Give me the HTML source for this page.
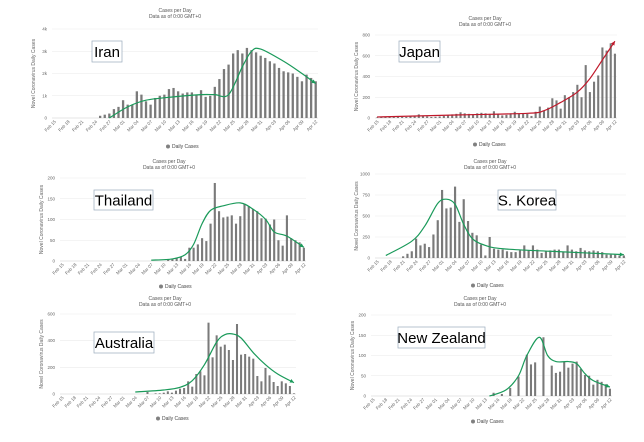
<!DOCTYPE html>
<html><head><meta charset="utf-8"><style>
html,body{margin:0;padding:0;background:#fff;}
svg{display:block;font-family:"Liberation Sans",sans-serif;}
</style></head><body>
<svg id="s" width="644" height="442" viewBox="0 0 644 442" xmlns="http://www.w3.org/2000/svg"></svg>
<script>
const S=document.getElementById('s');
let h='';
function pad(a){while(a.length<58)a.unshift(0);return a.slice(-58);}
const P=[
{name:'Iran',x0:52,x1:318,yt:29,yb:118,max:4000,ticks:['0','1k','2k','3k','4k'],tx:175,ty:12,lx:175,ly:148,box:[92,41,30,21],col:'#1a9a5a',
 d:[100,150,200,400,500,800,600,600,1200,1050,750,600,900,1000,1050,1300,1350,1200,1100,1150,1150,1050,1250,950,1000,1400,1750,2200,2400,2900,3050,2900,3150,3050,2950,2800,2700,2550,2450,2250,2100,2050,2000,1850,1650,1950,1800,1650],
 c:[[12,0],[16,500],[20,800],[26,950],[32,1050],[35,1050],[38,1050],[41,2300],[43,3000],[45,3100],[50,2550],[54,2000],[57,1550]]},
{name:'Japan',x0:375,x1:617,yt:35,yb:118,max:800,ticks:['0','200','400','600','800'],tx:485,ty:20,lx:482,ly:146,box:[399,41,41,21],col:'#c0192b',
 d:[5,8,10,12,10,15,12,10,15,20,35,20,15,10,12,15,20,25,35,40,55,45,40,35,45,50,45,40,65,35,25,30,45,60,40,45,40,20,60,110,70,100,190,170,90,220,200,250,320,200,510,250,350,410,680,650,720,620],
 c:[[0,10],[20,30],[36,45],[40,70],[44,150],[48,250],[51,380],[54,560],[57,740]]},
{name:'Thailand',x0:60,x1:306,yt:178,yb:261,max:200,ticks:['0','50','100','150','200'],tx:169,ty:163,lx:168,ly:288,box:[94,190,59,20],col:'#1a9a5a',
 d:[3,5,8,10,5,32,32,40,55,48,90,188,120,105,107,110,90,108,138,132,125,120,103,102,88,100,50,37,110,55,50,45,32],
 c:[[21,2],[26,5],[29,15],[31,40],[33,90],[35,122],[38,133],[42,140],[45,125],[48,100],[50,70],[53,60],[57,33]]},
{name:'S. Korea',x0:375,x1:626,yt:174,yb:258,max:1000,ticks:['0','250','500','750','1000'],tx:490,ty:163,lx:480,ly:287,box:[498,190,58,20],col:'#1a9a5a',
 d:[20,50,80,230,150,170,130,280,450,810,590,600,850,430,700,440,300,270,160,30,250,110,100,100,80,70,70,90,150,90,150,100,60,80,90,100,100,70,150,100,80,120,90,80,90,80,70,40,40,40,30,30],
 c:[[2,30],[8,200],[11,380],[14,650],[16,700],[18,640],[20,400],[22,230],[25,150],[29,110],[40,80],[57,40]]},
{name:'Australia',x0:60,x1:296,yt:314,yb:394,max:600,ticks:['0','200','400','600'],tx:165,ty:300,lx:165,ly:420,box:[94,332,60,21],col:'#1a9a5a',
 d:[15,0,5,5,10,20,10,25,40,45,95,55,150,170,140,535,275,440,355,370,330,255,525,295,300,280,265,135,95,195,140,90,60,95,80,60,5],
 c:[[18,15],[25,30],[29,50],[32,100],[35,220],[38,390],[40,445],[42,450],[44,420],[47,310],[50,220],[53,150],[57,85]]},
{name:'New Zealand',x0:371,x1:612,yt:315,yb:396,max:200,ticks:['0','50','100','150','200'],tx:480,ty:300,lx:480,ly:423,box:[398,327,87,21],col:'#1a9a5a',
 d:[8,0,5,0,20,0,48,0,102,78,83,0,145,0,75,57,60,85,70,80,85,67,52,50,28,40,35,29,18],
 c:[[28,0],[32,15],[35,50],[37,100],[40,145],[42,100],[44,85],[47,85],[49,80],[51,55],[53,38],[57,22]]}
];
const months=['Feb 15','Feb 18','Feb 21','Feb 24','Feb 27','Mar 01','Mar 04','Mar 07','Mar 10','Mar 13','Mar 16','Mar 19','Mar 22','Mar 25','Mar 28','Mar 31','Apr 03','Apr 06','Apr 09','Apr 12'];
function spline(pts){let s='M'+pts[0][0]+','+pts[0][1];
 for(let i=0;i<pts.length-1;i++){const p0=pts[i-1]||pts[i],p1=pts[i],p2=pts[i+1],p3=pts[i+2]||p2;
 s+=' C'+(p1[0]+(p2[0]-p0[0])/6)+','+(p1[1]+(p2[1]-p0[1])/6)+' '+(p2[0]-(p3[0]-p1[0])/6)+','+(p2[1]-(p3[1]-p1[1])/6)+' '+p2[0]+','+p2[1];}
 return s;}
for(const p of P){
 const n=58,step=(p.x1-p.x0)/n;const X=i=>p.x0+step*(i+0.5);const Y=v=>p.yb-(p.yb-p.yt)*v/p.max;
 h+=`<text x="${p.tx}" y="${p.ty}" font-size="5" fill="#555" text-anchor="middle">Cases per Day</text>`;
 h+=`<text x="${p.tx}" y="${p.ty+6}" font-size="5" fill="#555" text-anchor="middle">Data as of 0:00 GMT+0</text>`;
 const nt=p.ticks.length;
 for(let k=0;k<nt;k++){const y=p.yb-(p.yb-p.yt)*k/(nt-1);
  h+=`<line x1="${p.x0}" x2="${p.x1}" y1="${y}" y2="${y}" stroke="${k==0?'#ccc':'#eaeaea'}" stroke-width="0.6"/>`;
  h+=`<text x="${p.x0-5}" y="${y+1.5}" font-size="4.5" fill="#666" text-anchor="end">${p.ticks[k]}</text>`;}
 const my=(p.yt+p.yb)/2;
 h+=`<text transform="translate(${p.x0-17},${my}) rotate(-90)" font-size="5" fill="#666" text-anchor="middle">Novel Coronavirus Daily Cases</text>`;
 const d=pad(p.d.slice());const bw=Math.max(1.8,step*0.5);
 d.forEach((v,i)=>{if(v>0)h+=`<rect x="${X(i)-bw/2}" y="${Y(v)}" width="${bw}" height="${p.yb-Y(v)}" fill="#7a7a7a"/>`;});
 months.forEach((m,k)=>{const x=X(k*3);h+=`<text transform="translate(${x+2},${p.yb+4}) rotate(-45)" font-size="4.5" fill="#666" text-anchor="end">${m}</text>`;});
 const pts=p.c.map(q=>[X(q[0]),Y(q[1])]);
 h+=`<path d="${spline(pts)}" fill="none" stroke="${p.col}" stroke-width="1.2"/>`;
 const L=pts[pts.length-1],Pr=pts[pts.length-2];const a=Math.atan2(L[1]-Pr[1],L[0]-Pr[0])*180/Math.PI;
 h+=`<polygon points="0,0 -4,-2 -4,2" fill="${p.col}" transform="translate(${L[0]},${L[1]}) rotate(${a})"/>`;
 h+=`<circle cx="${p.lx-7}" cy="${p.ly-1.5}" r="2" fill="#808080"/><text x="${p.lx-3}" y="${p.ly}" font-size="5" fill="#444">Daily Cases</text>`;
 const b=p.box;
 h+=`<rect x="${b[0]}" y="${b[1]}" width="${b[2]}" height="${b[3]}" fill="#fff" stroke="#9ab" stroke-width="0.7"/>`;
 h+=`<text x="${b[0]+b[2]/2}" y="${b[1]+b[3]/2+5.5}" font-size="15" fill="#000" text-anchor="middle">${p.name}</text>`;
}
S.innerHTML=h;
</script>
</body></html>
